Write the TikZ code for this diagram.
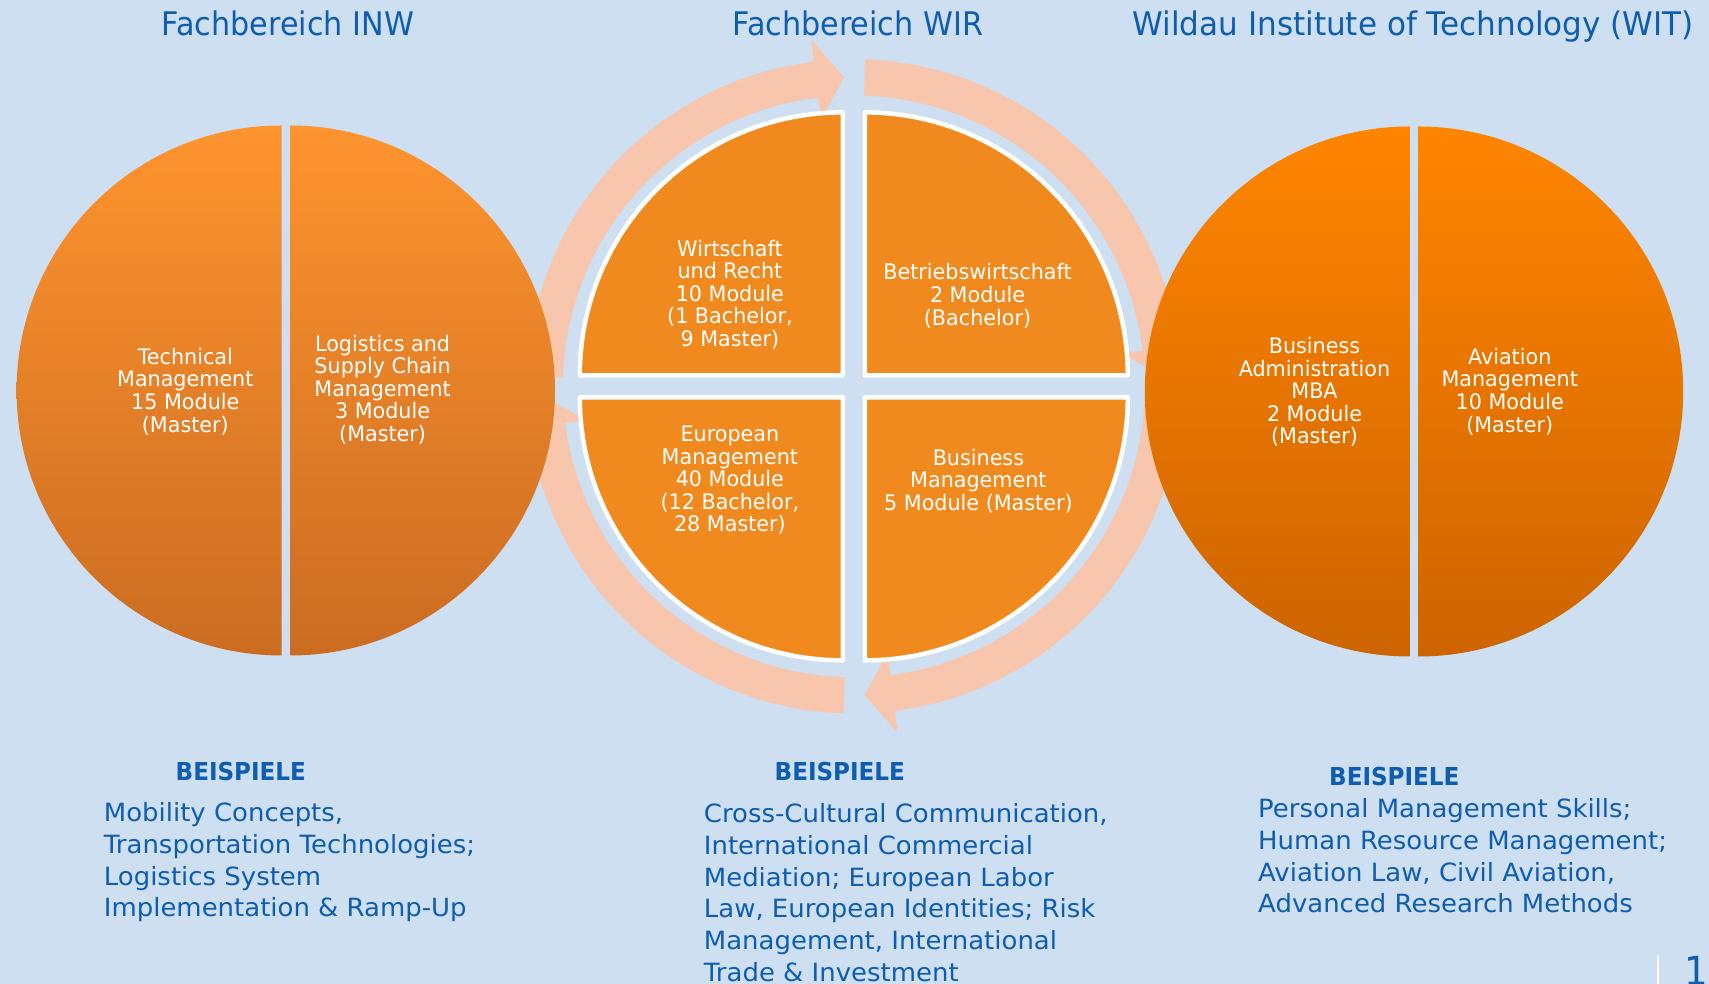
\documentclass[tikz,border=0pt]{standalone}
\usepackage{fontspec}
\setmainfont{DejaVu Sans}[FakeStretch=0.93]
\newfontfamily\witfont{DejaVu Sans}[FakeStretch=0.956]
\newfontfamily\ctfont{DejaVu Sans}[FakeStretch=0.967]
\newfontfamily\beifont{DejaVu Sans}[FakeStretch=0.934]
\newfontfamily\bodyfont{DejaVu Sans}[FakeStretch=1.034]
\definecolor{bg}{RGB}{205,223,240}
\definecolor{blu}{RGB}{14,93,176}
\definecolor{quadfill}{RGB}{241,138,30}
\definecolor{arrowc}{RGB}{248,198,172}
\definecolor{ltop}{RGB}{254,148,46}
\definecolor{lbot}{RGB}{203,108,34}
\definecolor{rtop}{RGB}{255,133,0}
\definecolor{rbot}{RGB}{205,100,0}
\begin{document}
\begin{tikzpicture}[x=1pt,y=1pt,
  title/.style={anchor=base, inner sep=0pt, text=blu, font=\fontsize{32.5}{39}\selectfont},
  ctext/.style={anchor=north, align=center, inner sep=0pt, text=white, font=\ctfont\fontsize{21.4}{22.55}\selectfont},
  bei/.style={anchor=base west, inner sep=0pt, text=blu, font=\beifont\bfseries\fontsize{24.7}{30}\selectfont},
  body/.style={anchor=north west, align=left, inner sep=0pt, text=blu, font=\bodyfont\fontsize{25.1}{31.7}\selectfont},
  quad/.style={fill=quadfill, draw=white, line width=4.5pt, line join=round},
  cyc/.style={fill=arrowc},
]
\useasboundingbox (0,0) rectangle (1709,984);
\fill[bg] (0,0) rectangle (1709,984);
\clip (0,0) rectangle (1709,984);

% cycle arrows and quadrants of the middle
\begin{scope}[shift={(853.8,597.6)}]
  \fill[cyc] (178.3:327) arc[start angle=178.3,end angle=97,radius=327] -- (97:349) -- (91.8:309) -- (97:269) -- (97:291) arc[start angle=97,end angle=178.3,radius=291] -- cycle;
  \fill[cyc] (88:327) arc[start angle=88,end angle=7.1,radius=327] -- (7.1:349) -- (2:309) -- (7.1:269) -- (7.1:291) arc[start angle=7.1,end angle=88,radius=291] -- cycle;
  \fill[cyc] (-2:327) arc[start angle=-2,end angle=-82.8,radius=327] -- (-82.8:349) -- (-88:309) -- (-82.8:269) -- (-82.8:291) arc[start angle=-82.8,end angle=-2,radius=291] -- cycle;
  \fill[cyc] (-91.8:327) arc[start angle=-91.8,end angle=-172.8,radius=327] -- (-172.8:349) -- (-178:309) -- (-172.8:269) -- (-172.8:291) arc[start angle=-172.8,end angle=-91.8,radius=291] -- cycle;
  \draw[quad] (-11,11) -- ++(-263,0) arc[start angle=180,end angle=90,radius=263] -- cycle;
  \draw[quad] (11,11) -- ++(0,263) arc[start angle=90,end angle=0,radius=263] -- cycle;
  \draw[quad] (11,-11) -- ++(263,0) arc[start angle=0,end angle=-90,radius=263] -- cycle;
  \draw[quad] (-11,-11) -- ++(0,-263) arc[start angle=270,end angle=180,radius=263] -- cycle;
\end{scope}

% left circle
\shade[top color=ltop,bottom color=lbot] (281.6,593.5) ++(0,265) arc[start angle=90,end angle=270,radius=265] -- cycle;
\shade[top color=ltop,bottom color=lbot] (290,593.5) ++(0,-265) arc[start angle=-90,end angle=90,radius=265] -- cycle;
% right circle
\shade[top color=rtop,bottom color=rbot] (1409.8,592.5) ++(0,265) arc[start angle=90,end angle=270,radius=265] -- cycle;
\shade[top color=rtop,bottom color=rbot] (1418.2,592.5) ++(0,-265) arc[start angle=-90,end angle=90,radius=265] -- cycle;

% titles
\node[title] (t1) at (287.9,948) {Fachbereich INW};
\node[title] (t2) at (857.8,948) {Fachbereich WIR};
\node[title, font=\witfont\fontsize{32.5}{39}\selectfont] (t3) at (1413.2,948) {Wildau Institute of Technology (WIT)};

% circle texts
\node[ctext] (c1) at (185.3,639.8) {\rule{0pt}{20pt}Technical\\Management\\15 Module\\(Master)};
\node[ctext] (c2) at (382.6,652.9) {\rule{0pt}{20pt}Logistics and\\Supply Chain\\Management\\3 Module\\(Master)};
\node[ctext] (q1) at (729.9,748) {\rule{0pt}{20pt}Wirtschaft\\und Recht\\10 Module\\(1 Bachelor,\\9 Master)};
\node[ctext] (q2) at (977.5,724.2) {\rule{0pt}{20pt}Betriebswirtschaft\\2 Module\\(Bachelor)};
\node[ctext] (q3) at (729.9,562.5) {\rule{0pt}{20pt}European\\Management\\40 Module\\(12 Bachelor,\\28 Master)};
\node[ctext] (q4) at (978.4,539) {\rule{0pt}{20pt}Business\\Management\\5 Module (Master)};
\node[ctext] (c3) at (1314.5,650.7) {\rule{0pt}{20pt}Business\\Administration\\MBA\\2 Module\\(Master)};
\node[ctext] (c4) at (1509.7,639.8) {\rule{0pt}{20pt}Aviation\\Management\\10 Module\\(Master)};

% examples
\node[bei] (b1) at (175.5,203.3) {BEISPIELE};
\node[bei] (b2) at (774.5,203.3) {BEISPIELE};
\node[bei] (b3) at (1329,198.3) {BEISPIELE};
\node[body] (e1) at (103.7,187.3) {\rule{0pt}{25pt}Mobility Concepts,\\Transportation Technologies;\\Logistics System\\Implementation \& Ramp-Up};
\node[body] (e2) at (703.7,186.3) {\rule{0pt}{25pt}Cross-Cultural Communication,\\International Commercial\\Mediation; European Labor\\Law, European Identities; Risk\\Management, International\\Trade \& Investment};
\node[body] (e3) at (1258,191.3) {\rule{0pt}{25pt}Personal Management Skills;\\Human Resource Management;\\Aviation Law, Civil Aviation,\\Advanced Research Methods};

% page number
\coordinate (pa) at (1658,29);
\coordinate (pb) at (1658,0);
\draw[white, line width=2.7pt] (pa) -- (pb);
\node[anchor=base west, inner sep=0pt, text=blu, font=\fontsize{40}{44}\selectfont] (pn) at (1684,-2) {1};
\end{tikzpicture}
\end{document}
